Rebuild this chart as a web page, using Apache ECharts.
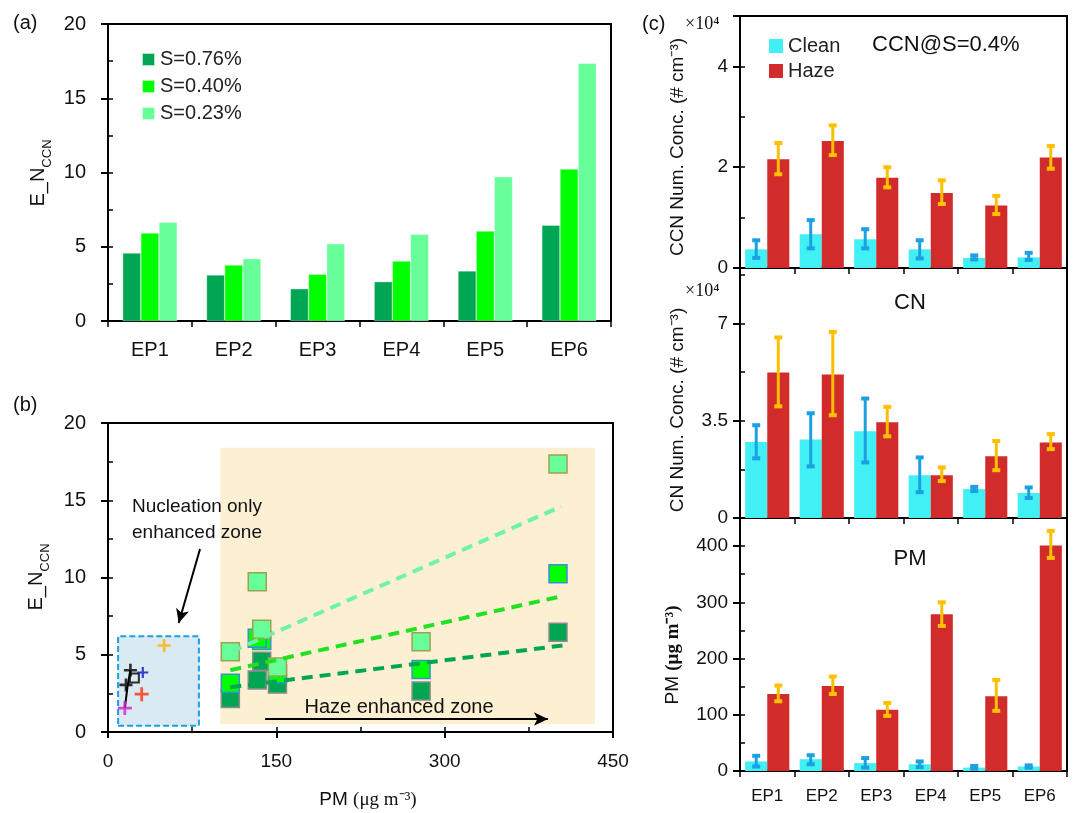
<!DOCTYPE html>
<html><head><meta charset="utf-8">
<script src="https://cdn.jsdelivr.net/npm/echarts@6/dist/echarts.min.js"></script>
<style>html,body{margin:0;padding:0;background:#fff}#c{width:1073px;height:813px}</style>
</head><body><div id="c"></div>
<script>
// ---------- data ----------
const episodes = ['EP1', 'EP2', 'EP3', 'EP4', 'EP5', 'EP6'];
// panel (a): enhancement factor E_N_CCN per supersaturation
const eS076 = [4.58, 3.10, 2.17, 2.65, 3.37, 6.45];
const eS040 = [5.93, 3.77, 3.15, 4.04, 6.06, 10.24];
const eS023 = [6.65, 4.20, 5.20, 5.84, 9.72, 17.35];
// panel (b): clean-period points (PM, E) and regression lines
const cleanOrange = [[50, 5.6]];
const cleanBlue = [[31, 3.85]];
const cleanRed = [[30, 2.45]];
const cleanMagenta = [[15, 1.55]];
const cleanBlack = [[16, 3.05], [20, 4.0]];
const cleanBlackPath = [[15, 1.55], [17.5, 3.0], [20, 4.0]];
const cleanBlackBox = [[23.5, 3.5]];
const fitS076 = [[109, 2.9], [405, 5.6]];
const fitS040 = [[109, 4.0], [405, 8.8]];
const fitS023 = [[110, 5.2], [404, 14.6]];
const hazeZone = [[100, 0.5], [434, 18.4]];
const nucZone = [[9, 0.4], [81, 6.2]];
const nucArrow = [[82, 11.85], [63, 7.05]];
const hazeArrow = [[140, 0.84], [392, 0.84]];
// panel (c): CCN (x1e4), CN (x1e4), PM (ug m-3), mean and error range
const ccnClean = [0.37, 0.67, 0.57, 0.37, 0.20, 0.21];
const ccnCleanLo = [0.20, 0.39, 0.39, 0.19, 0.17, 0.16];
const ccnCleanHi = [0.55, 0.95, 0.77, 0.55, 0.25, 0.30];
const ccnHaze = [2.16, 2.52, 1.79, 1.49, 1.24, 2.19];
const ccnHazeLo = [1.86, 2.24, 1.60, 1.27, 1.07, 1.97];
const ccnHazeHi = [2.48, 2.83, 2.00, 1.74, 1.43, 2.42];
const cnClean = [2.74, 2.83, 3.12, 1.54, 1.04, 0.90];
const cnCleanLo = [2.15, 1.86, 2.00, 0.93, 0.97, 0.72];
const cnCleanHi = [3.34, 3.77, 4.30, 2.18, 1.12, 1.10];
const cnHaze = [5.24, 5.17, 3.45, 1.54, 2.22, 2.72];
const cnHazeLo = [4.02, 3.70, 2.94, 1.33, 1.72, 2.48];
const cnHazeHi = [6.50, 6.70, 4.00, 1.82, 2.77, 3.02];
const pmClean = [17, 21, 14, 12, 6, 8];
const pmCleanLo = [8, 12, 6, 7, 4, 6];
const pmCleanHi = [27, 28, 23, 17, 9, 10];
const pmHaze = [137, 151, 109, 279, 133, 401];
const pmHazeLo = [124, 137, 98, 258, 107, 379];
const pmHazeHi = [152, 168, 121, 300, 162, 427];

// ---------- styles ----------
const SANS = '"Liberation Sans", Arial, sans-serif';
const SERIF = '"Liberation Serif", "Times New Roman", serif';
const C_DARK = '#00A651', C_MID = '#00FF00', C_LIGHT = '#66FF99';
const C_CLEAN = '#40F0F5', C_HAZE = '#D22B2B', C_CLEAN_ERR = '#1BA1E2', C_HAZE_ERR = '#FFC000';
const AX = {color: '#000', width: 2};
const PLUS = 'path://M4,0H6V4H10V6H6V10H4V6H0V4H4Z';

function catAxis(g, showLabel, fs, margin) {
  return {type: 'category', gridIndex: g, data: episodes, boundaryGap: true,
    axisLine: {show: true, lineStyle: AX},
    axisTick: {show: true, length: 6, alignWithLabel: false, lineStyle: {color: '#000', width: 1.5}},
    axisLabel: {show: showLabel, fontSize: fs, margin: margin, color: '#111', fontFamily: SANS},
    splitLine: {show: false}};
}
function valAxis(g, min, max, interval, fs, margin, hideVal, pos) {
  return {type: 'value', gridIndex: g, min: min, max: max, interval: interval, position: pos || 'left',
    axisLine: {show: true, lineStyle: AX},
    axisTick: {show: true, length: 7, lineStyle: {color: '#000', width: 2}},
    axisLabel: {fontSize: fs, margin: margin, color: '#111', fontFamily: SANS,
      formatter: function (v) { return (hideVal !== null && Math.abs(v - hideVal) < 1e-9) ? '' : String(v); }},
    splitLine: {show: false}};
}
function innerAxis(g, min, max, interval, type, pos) {
  return {type: 'value', gridIndex: g, min: min, max: max, interval: interval, position: pos,
    axisLine: {show: false}, axisLabel: {show: false}, splitLine: {show: false},
    axisTick: {show: true, inside: true, length: 5, lineStyle: {color: '#000', width: 1.5}}};
}
function errSeries(xi, yi, lo, hi, side, color) {
  return {type: 'custom', name: 'err', xAxisIndex: xi, yAxisIndex: yi, z: 6, silent: true,
    data: lo.map(function (l, i) { return [i, l, hi[i]]; }),
    renderItem: function (params, api) {
      var i = api.value(0);
      var pHi = api.coord([i, api.value(2)]);
      var pLo = api.coord([i, api.value(1)]);
      var band = api.size([1, 0])[0];
      var bw = band * (1 - 0.19) / 2;
      var x = pHi[0] + side * bw / 2;
      var cw = 4;
      return {type: 'group', children: [
        {type: 'line', shape: {x1: x, y1: pHi[1], x2: x, y2: pLo[1]}, style: {stroke: color, lineWidth: 3}},
        {type: 'line', shape: {x1: x - cw, y1: pHi[1], x2: x + cw, y2: pHi[1]}, style: {stroke: color, lineWidth: 4}},
        {type: 'line', shape: {x1: x - cw, y1: pLo[1], x2: x + cw, y2: pLo[1]}, style: {stroke: color, lineWidth: 4}}
      ]};
    }};
}
function cBars(xi, yi, clean, haze) {
  return [
    {type: 'bar', name: 'Clean', xAxisIndex: xi, yAxisIndex: yi, data: clean, barGap: '0%', barCategoryGap: '19%',
      itemStyle: {color: C_CLEAN}, z: 3},
    {type: 'bar', name: 'Haze', xAxisIndex: xi, yAxisIndex: yi, data: haze, barGap: '0%', barCategoryGap: '19%',
      itemStyle: {color: C_HAZE}, z: 3}
  ];
}
function cross(name, data, color, size) {
  return {type: 'scatter', name: name, xAxisIndex: 1, yAxisIndex: 2, data: data, symbol: PLUS, symbolSize: size,
    itemStyle: {color: color}, z: 4};
}
function fitLine(name, data, color) {
  return {type: 'line', name: name, xAxisIndex: 1, yAxisIndex: 2, data: data, symbol: 'none', z: 5,
    lineStyle: {color: color, width: 4, type: [11, 7]}};
}
function squares(name, data, fill, border) {
  return {type: 'scatter', name: name, xAxisIndex: 1, yAxisIndex: 2, data: data, symbol: 'rect', symbolSize: 18,
    itemStyle: {color: fill, borderColor: border, borderWidth: 1.5, opacity: 1}, z: 4};
}
function pair(xs, ys) { return xs.map(function (x, i) { return [x, ys[i]]; }); }

const ySubRich = {
  n: {fontSize: 20, fontFamily: SANS, fill: '#111', verticalAlign: 'bottom', lineHeight: 24, padding: [0, 0, 6, 0]},
  s: {fontSize: 13, fontFamily: SANS, fill: '#111', verticalAlign: 'bottom', lineHeight: 24}
};
function gtext(x, y, text, opts) {
  return {type: 'text', x: x, y: y, z: 100, silent: true,
    style: Object.assign({text: text, fill: '#111', font: '19px ' + SANS, textAlign: 'left', textVerticalAlign: 'middle'}, opts || {})};
}
function rtext(x, y, style) {
  return {type: 'text', x: x, y: y, z: 100, rotation: Math.PI / 2, silent: true,
    style: Object.assign({textAlign: 'center', textVerticalAlign: 'middle', fill: '#111'}, style)};
}

const option = {
  animation: false,
  backgroundColor: '#fff',
  grid: [
    {left: 108, top: 24, width: 503, height: 297, show: true, borderColor: '#000', borderWidth: 2},
    {left: 108, top: 423, width: 505, height: 309, show: true, borderColor: '#000', borderWidth: 2},
    {left: 740, top: 16, width: 327, height: 252, show: true, borderColor: '#000', borderWidth: 2},
    {left: 740, top: 268, width: 327, height: 250, show: true, borderColor: '#000', borderWidth: 2},
    {left: 740, top: 518, width: 327, height: 253, show: true, borderColor: '#000', borderWidth: 2}
  ],
  xAxis: [
    catAxis(0, true, 20, 19),
    {type: 'value', gridIndex: 1, min: 0, max: 450, interval: 150,
      axisLine: {show: true, lineStyle: AX}, axisTick: {show: true, length: 6, lineStyle: {color: '#000', width: 2}},
      axisLabel: {fontSize: 19, margin: 20, color: '#111', fontFamily: SANS}, splitLine: {show: false}},
    catAxis(2, false, 16, 16),
    catAxis(3, false, 16, 16),
    catAxis(4, true, 17, 17),
    innerAxis(1, 0, 450, 75, 'value', 'bottom')
  ],
  yAxis: [
    valAxis(0, 0, 20, 5, 20, 22, null),
    innerAxis(0, 0, 20, 2.5, 'value', 'left'),
    valAxis(1, 0, 20, 5, 20, 22, null),
    innerAxis(1, 0, 20, 2.5, 'value', 'left'),
    valAxis(2, 0, 5, 2, 19, 12, 5),
    innerAxis(2, 0, 5, 1, 'value', 'left'),
    valAxis(3, 0, 9, 3.5, 19, 12, 9),
    innerAxis(3, 0, 9, 1.75, 'value', 'left'),
    valAxis(4, 0, 450, 100, 19, 12, 450),
    innerAxis(4, 0, 450, 50, 'value', 'left')
  ],
  legend: [
    {data: ['S=0.76%', 'S=0.40%', 'S=0.23%'], orient: 'vertical', left: 136, top: 44, icon: 'rect',
      itemWidth: 13, itemHeight: 13, itemGap: 6, selectedMode: false,
      textStyle: {fontSize: 20, lineHeight: 21, fontFamily: SANS, color: '#222'}},
    {data: ['Clean', 'Haze'], orient: 'vertical', left: 764, top: 31, icon: 'rect',
      itemWidth: 14, itemHeight: 14, itemGap: 5, selectedMode: false,
      textStyle: {fontSize: 20, lineHeight: 20, fontFamily: SANS, color: '#222'}}
  ],
  series: [
    // panel (a)
    {type: 'bar', name: 'S=0.76%', xAxisIndex: 0, yAxisIndex: 0, data: eS076, barGap: '0%', barCategoryGap: '35%',
      itemStyle: {color: C_DARK, borderColor: 'rgba(255,255,255,0.7)', borderWidth: 0.5}},
    {type: 'bar', name: 'S=0.40%', xAxisIndex: 0, yAxisIndex: 0, data: eS040, barGap: '0%', barCategoryGap: '35%',
      itemStyle: {color: C_MID, borderColor: 'rgba(255,255,255,0.7)', borderWidth: 0.5}},
    {type: 'bar', name: 'S=0.23%', xAxisIndex: 0, yAxisIndex: 0, data: eS023, barGap: '0%', barCategoryGap: '35%',
      itemStyle: {color: C_LIGHT, borderColor: 'rgba(255,255,255,0.7)', borderWidth: 0.5}},
    // panel (b) zones and arrows
    {type: 'line', name: 'zones', xAxisIndex: 1, yAxisIndex: 2, data: [], z: 1, silent: true,
      markArea: {silent: true, label: {show: false}, data: [
        [{coord: hazeZone[0], itemStyle: {color: '#FDF0D2', borderWidth: 0}}, {coord: hazeZone[1]}],
        [{coord: nucZone[0], itemStyle: {color: '#D9EAF2', borderColor: '#1BA1E2', borderWidth: 2, borderType: [6, 3]}}, {coord: nucZone[1]}]
      ]},
      markLine: {silent: true, symbol: ['none', 'arrow'], symbolSize: [10, 14], label: {show: false},
        lineStyle: {color: '#000', width: 2, type: 'solid'},
        data: [
          [{coord: nucArrow[0]}, {coord: nucArrow[1]}],
          [{coord: hazeArrow[0]}, {coord: hazeArrow[1]}]
        ]}},
    squares('b076', pair(pmHaze, eS076), C_DARK, '#8C8C8C'),
    squares('b040', pair(pmHaze, eS040), C_MID, '#3F8FD0'),
    squares('b023', pair(pmHaze, eS023), C_LIGHT, '#A0A050'),
    fitLine('f023', fitS023, '#70F2A8'),
    fitLine('f040', fitS040, '#22E022'),
    fitLine('f076', fitS076, '#00A651'),
    {type: 'line', name: 'blackpath', xAxisIndex: 1, yAxisIndex: 2, data: cleanBlackPath, symbol: 'none', z: 4,
      lineStyle: {color: '#000', width: 2}},
    {type: 'scatter', name: 'blackbox', xAxisIndex: 1, yAxisIndex: 2, data: cleanBlackBox, symbol: 'rect', symbolSize: 9, z: 4,
      itemStyle: {color: 'rgba(0,0,0,0)', borderColor: '#000', borderWidth: 2}},
    cross('cOrange', cleanOrange, '#FFB000', 13),
    cross('cBlue', cleanBlue, '#1010C0', 11),
    cross('cRed', cleanRed, '#FF3010', 14),
    cross('cMagenta', cleanMagenta, '#D020D0', 14),
    cross('cBlack', cleanBlack, '#000', 13)
  ].concat(
    cBars(2, 4, ccnClean, ccnHaze),
    cBars(3, 6, cnClean, cnHaze),
    cBars(4, 8, pmClean, pmHaze),
    [
      errSeries(2, 4, ccnCleanLo, ccnCleanHi, -1, C_CLEAN_ERR),
      errSeries(2, 4, ccnHazeLo, ccnHazeHi, 1, C_HAZE_ERR),
      errSeries(3, 6, cnCleanLo, cnCleanHi, -1, C_CLEAN_ERR),
      errSeries(3, 6, cnHazeLo, cnHazeHi, 1, C_HAZE_ERR),
      errSeries(4, 8, pmCleanLo, pmCleanHi, -1, C_CLEAN_ERR),
      errSeries(4, 8, pmHazeLo, pmHazeHi, 1, C_HAZE_ERR)
    ]
  ),
  graphic: [
    gtext(13, 23, '(a)', {font: '20px ' + SANS}),
    gtext(13, 405, '(b)', {font: '20px ' + SANS}),
    gtext(642, 24, '(c)', {font: '20px ' + SANS}),
    gtext(685, 24, '×10⁴', {font: '18px ' + SERIF}),
    gtext(685, 291, '×10⁴', {font: '18px ' + SERIF}),
    gtext(872, 45, 'CCN@S=0.4%', {font: '22px ' + SANS}),
    gtext(910, 303, 'CN', {font: '22px ' + SANS, textAlign: 'center'}),
    gtext(910, 559, 'PM', {font: '22px ' + SANS, textAlign: 'center'}),
    gtext(132, 507, 'Nucleation only', {font: '19px ' + SANS}),
    gtext(132, 533, 'enhanced zone', {font: '19px ' + SANS}),
    gtext(399, 707, 'Haze enhanced zone', {font: '20px ' + SANS, textAlign: 'center'}),
    {type: 'text', x: 368, y: 800, z: 100, silent: true, style: {text: '{a|PM }{b|(μg m⁻³)}', textAlign: 'center', textVerticalAlign: 'middle',
      rich: {a: {fontSize: 19, fontFamily: SANS, fill: '#111'}, b: {fontSize: 19, fontFamily: SERIF, fill: '#111'}}}},
    rtext(42, 173, {text: '{n|E_N}{s|CCN}', rich: ySubRich}),
    rtext(40, 577, {text: '{n|E_N}{s|CCN}', rich: ySubRich}),
    rtext(678, 147, {text: 'CCN Num. Conc. (# cm⁻³)', font: '19px ' + SANS}),
    rtext(678, 410, {text: 'CN Num. Conc. (# cm⁻³)', font: '19px ' + SANS}),
    rtext(673, 655, {text: '{a|PM }{b|(μg m⁻³)}',
      rich: {a: {fontSize: 19, fontFamily: SANS, fill: '#111'}, b: {fontSize: 19, fontFamily: SERIF, fontWeight: 'bold', fill: '#111'}}})
  ]
};
const chart = echarts.init(document.getElementById('c'), null, {renderer: 'canvas'});
chart.setOption(option);
</script></body></html>
